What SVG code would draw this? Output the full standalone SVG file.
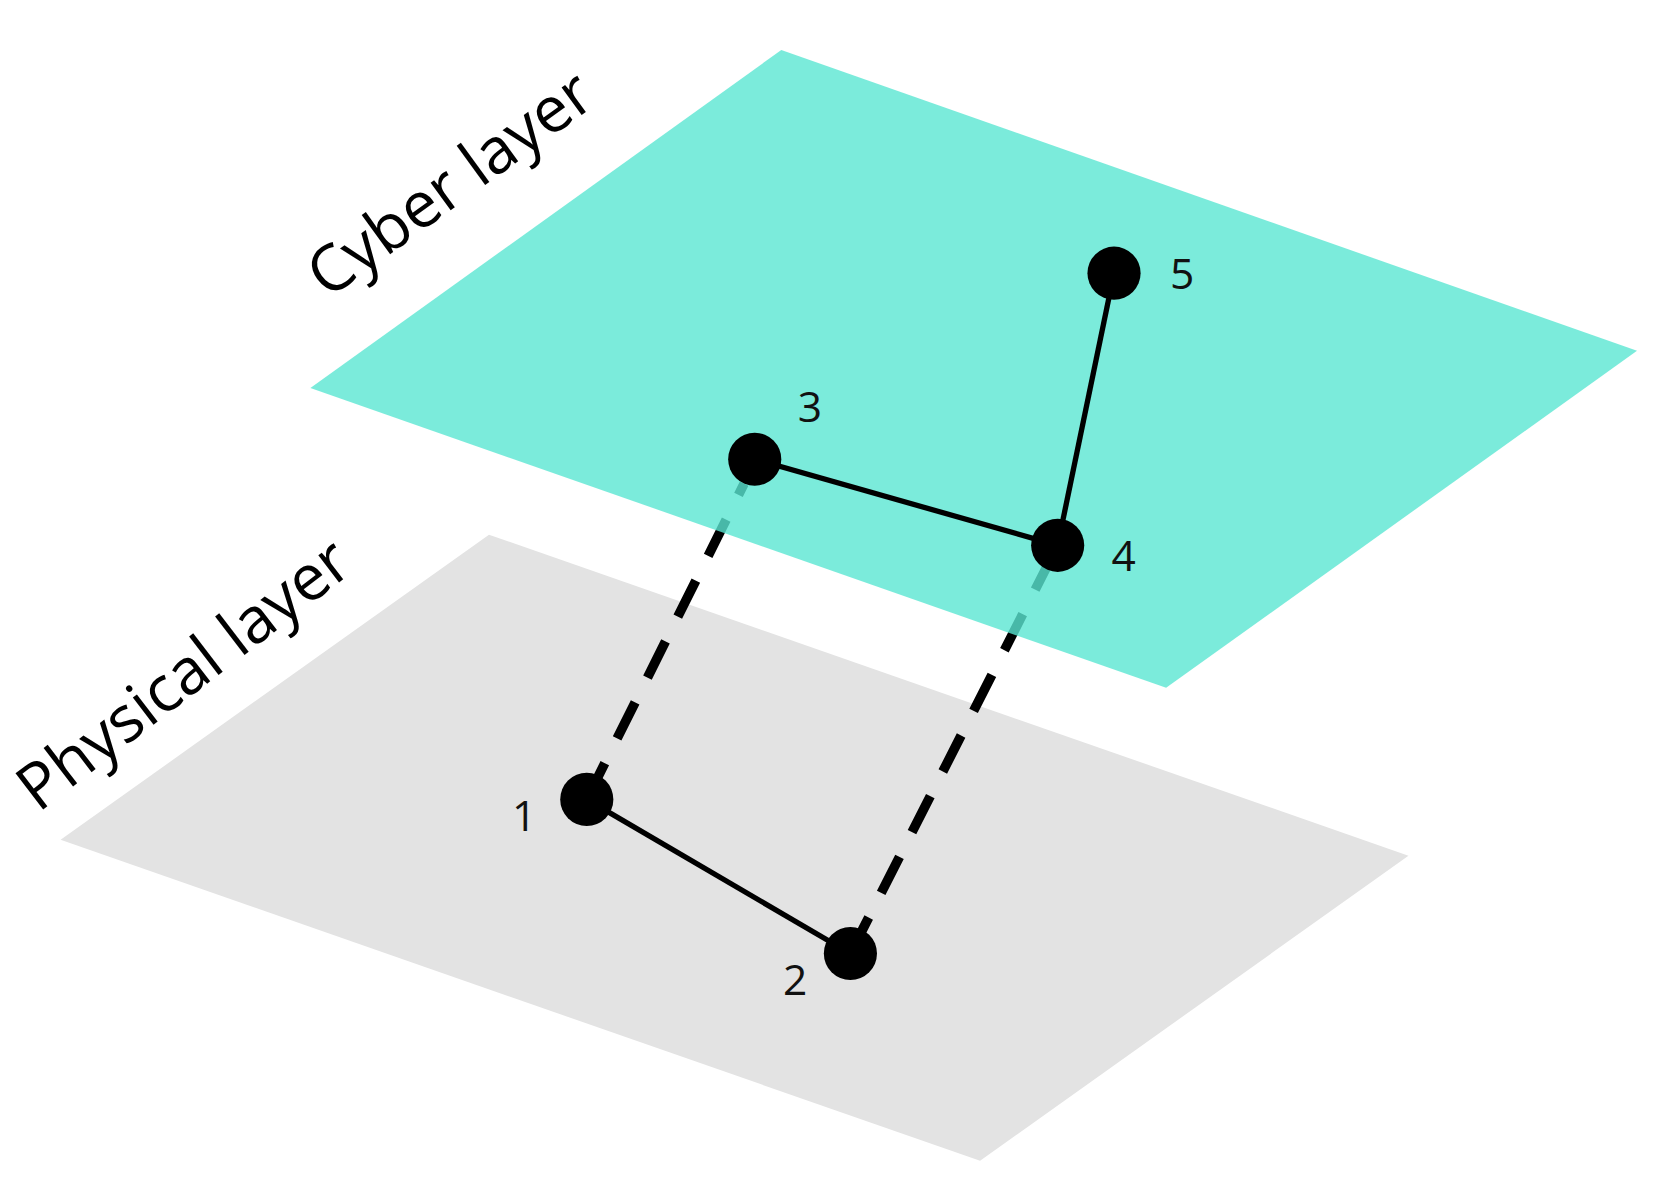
<svg xmlns="http://www.w3.org/2000/svg" width="1658" height="1181" viewBox="0 0 1658 1181">
<style>
.node{fill:#000}
.lbl{font-family:"Open Sans","Liberation Sans",sans-serif;font-size:40px;fill:#111}
.layer{font-family:"Open Sans","Liberation Sans",sans-serif;font-size:60px;fill:#000}
.edge{stroke:#000;stroke-width:5;fill:none}
.dash{stroke:#000;stroke-width:9;stroke-dasharray:38,26;fill:none}
</style>
<rect width="1658" height="1181" fill="#fff"/>
<g transform="scale(1.063)">
<polygon id="physical-plane" points="460,503 1325,805 922,1092 57,790" fill="#e3e3e3"/>
<g id="connectors-dashed">
<line class="dash" x1="552" y1="752" x2="700" y2="455"/>
<line class="dash" x1="800" y1="897" x2="995" y2="513"/>
</g>
<polygon id="cyber-plane" points="735,47 1540,330 1097,647 292,365" fill="#5ae6d2" fill-opacity="0.8"/>
<g id="connectors">
<line class="edge" x1="552" y1="752" x2="800" y2="897"/>
<line class="edge" x1="710" y1="432" x2="995" y2="513"/>
<line class="edge" x1="995" y1="513" x2="1048" y2="257"/>
</g>
<g id="node1"><circle class="node" cx="552" cy="752" r="25"/><text class="lbl" x="493" y="782" text-anchor="middle">1</text></g>
<g id="node2"><circle class="node" cx="800" cy="897" r="25"/><text class="lbl" x="748" y="936" text-anchor="middle">2</text></g>
<g id="node3"><circle class="node" cx="710" cy="432" r="25"/><text class="lbl" x="762" y="397" text-anchor="middle">3</text></g>
<g id="node4"><circle class="node" cx="995" cy="513" r="25"/><text class="lbl" x="1057" y="537" text-anchor="middle">4</text></g>
<g id="node5"><circle class="node" cx="1048" cy="257" r="25"/><text class="lbl" x="1112" y="272" text-anchor="middle">5</text></g>
<text class="layer" transform="translate(308,282) rotate(-36)">Cyber layer</text>
<text class="layer" transform="translate(36,765) rotate(-37.5)">Physical layer</text>
</g>
</svg>
